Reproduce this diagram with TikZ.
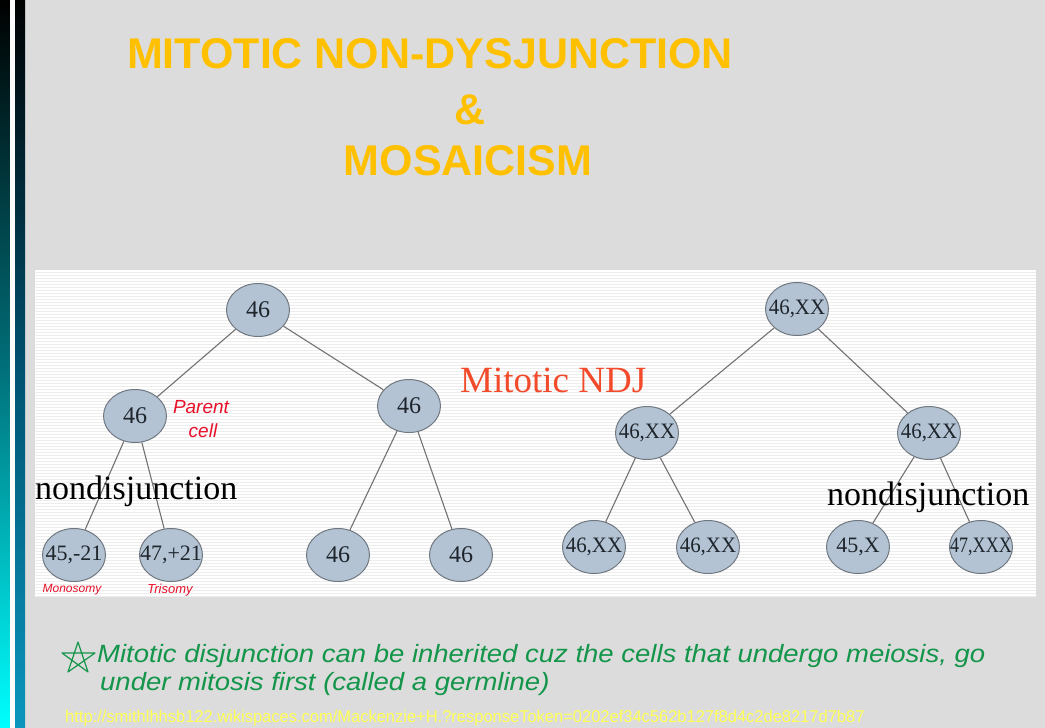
\documentclass[tikz,border=0pt]{standalone}
\usepackage{fontspec}
\setmainfont{Liberation Serif}
\newfontfamily\titlefont{Liberation Sans}
\newfontfamily\handfont{Liberation Sans}
\usetikzlibrary{shapes.geometric}
\definecolor{bg}{HTML}{DCDCDC}
\definecolor{titlecol}{HTML}{FFC000}
\definecolor{cellfill}{HTML}{B3C3D3}
\definecolor{celldraw}{HTML}{6F7780}
\definecolor{edgecol}{HTML}{727272}
\definecolor{ndjred}{HTML}{F24A2A}
\definecolor{inkred}{HTML}{E8102A}
\definecolor{inkgreen}{HTML}{13954A}
\definecolor{urlcol}{HTML}{FFFF55}
\definecolor{stripecol}{HTML}{EDEDED}
\definecolor{celltext}{HTML}{1E252C}
\newcommand{\celltxt}[1]{\makebox[0pt][c]{#1}}
\begin{document}
\begin{tikzpicture}[x=1pt,y=-1pt,
  cell/.style={ellipse, draw=celldraw, line width=1pt, fill=cellfill,
    minimum width=63pt, minimum height=53pt, inner sep=0pt, text=celltext,
    font=\fontsize{22}{22}\selectfont},
  bigcell/.style={cell, font=\fontsize{24}{24}\selectfont},
  edge/.style={draw=edgecol, line width=1.1pt},
  titletext/.style={text=titlecol, font=\titlefont\bfseries\fontsize{43}{43}\selectfont, inner sep=0pt},
  ndjlabel/.style={text=black, font=\fontsize{34}{34}\selectfont, inner sep=0pt},
  redink/.style={text=inkred, font=\handfont\itshape, inner sep=0pt},
  greenink/.style={text=inkgreen, font=\handfont\itshape\fontsize{25}{25}\selectfont, inner sep=0pt, anchor=base west}
]
\useasboundingbox (0,0) rectangle (1045,728);
% background
\fill[bg] (0,0) rectangle (1045,728);
\shade[top color=black, bottom color=cyan, middle color={rgb,255:red,0;green,110;blue,120}] (0,0) rectangle (10,728);
\fill[white!90!bg] (10,0) rectangle (15,728);
\shade[top color=black, bottom color={rgb,255:red,10;green,150;blue,190}, middle color={rgb,255:red,0;green,80;blue,110}] (15,0) rectangle (25,728);

% title
\node[titletext] (t1line) at (430,54) {MITOTIC NON-DYSJUNCTION};
\node[titletext] (t2line) at (470,110) {\&};
\node[titletext] (t3line) at (468,161) {MOSAICISM};

% panel
\fill[white] (35,270) rectangle (1036,597);
\foreach \yy in {272,275,...,596} \draw[stripecol, line width=0.9pt] (35,\yy) -- (1036,\yy);

% left tree
\node[bigcell] (a0) at (258,310) {\celltxt{46}};
\node[bigcell] (a1) at (135,416) {\celltxt{46}};
\node[bigcell] (a2) at (409,406) {\celltxt{46}};
\node[cell] (a3) at (74,555) {\celltxt{45,-21}};
\node[cell] (a4) at (171,555) {\celltxt{47,+21}};
\node[bigcell] (a5) at (338,555) {\celltxt{46}};
\node[bigcell] (a6) at (461,555) {\celltxt{46}};
\draw[edge] (a0) -- (a1);
\draw[edge] (a0) -- (a2);
\draw[edge] (a1) -- (a3);
\draw[edge] (a1) -- (a4);
\draw[edge] (a2) -- (a5);
\draw[edge] (a2) -- (a6);

% right tree
\node[cell] (b0) at (797,309) {\celltxt{\scalebox{0.95}[1]{46,XX}}};
\node[cell] (b1) at (647,433) {\celltxt{\scalebox{0.95}[1]{46,XX}}};
\node[cell] (b2) at (929,433) {\celltxt{\scalebox{0.95}[1]{46,XX}}};
\node[cell] (b3) at (594,547) {\celltxt{\scalebox{0.95}[1]{46,XX}}};
\node[cell] (b4) at (708,547) {\celltxt{\scalebox{0.95}[1]{46,XX}}};
\node[cell] (b5) at (858,547) {\celltxt{45,X}};
\node[cell] (b6) at (981,547) {\celltxt{\scalebox{0.82}[1]{47,XXX}}};
\draw[edge] (b0) -- (b1);
\draw[edge] (b0) -- (b2);
\draw[edge] (b1) -- (b3);
\draw[edge] (b1) -- (b4);
\draw[edge] (b2) -- (b5);
\draw[edge] (b2) -- (b6);

% labels
\node[ndjlabel, anchor=base west] (ndjl) at (35,499) {nondisjunction};
\node[ndjlabel, anchor=base west] (ndjr) at (827,505) {nondisjunction};
\node[text=ndjred, font=\fontsize{37}{37}\selectfont, inner sep=0pt, anchor=base west] (mndj) at (460,392) {Mitotic NDJ};

% red handwriting
\node[redink, font=\handfont\itshape\fontsize{19}{19}\selectfont] (parent) at (201,407) {Parent};
\node[redink, font=\handfont\itshape\fontsize{19}{19}\selectfont] (cell) at (203,431) {cell};
\node[redink, font=\handfont\itshape\fontsize{12}{12}\selectfont] (mono) at (72,590) {Monosomy};
\node[redink, font=\handfont\itshape\fontsize{13}{13}\selectfont] (tri) at (170,590) {Trisomy};

% green handwriting
\draw[inkgreen, line width=1.2pt, line join=round]
  (78,642) -- (88,672) -- (62,653) -- (95,653) -- (68,672) -- cycle;
\node[greenink] (note1) at (97,662) {\scalebox{1.1}[1]{Mitotic disjunction can be inherited cuz the cells that undergo meiosis, go}};
\node[greenink] (note2) at (100,690) {\scalebox{1.1}[1]{under mitosis first (called a germline)}};

% url
\node[text=urlcol, font=\handfont\fontsize{17}{17}\selectfont, inner sep=0pt, anchor=base west] (url) at (65,722)
  {\scalebox{0.97}[1]{http://smithlhhsb122.wikispaces.com/Mackenzie+H.?responseToken=0202ef34c562b127f8d4c2de8217d7b87}};
\end{tikzpicture}
\end{document}
